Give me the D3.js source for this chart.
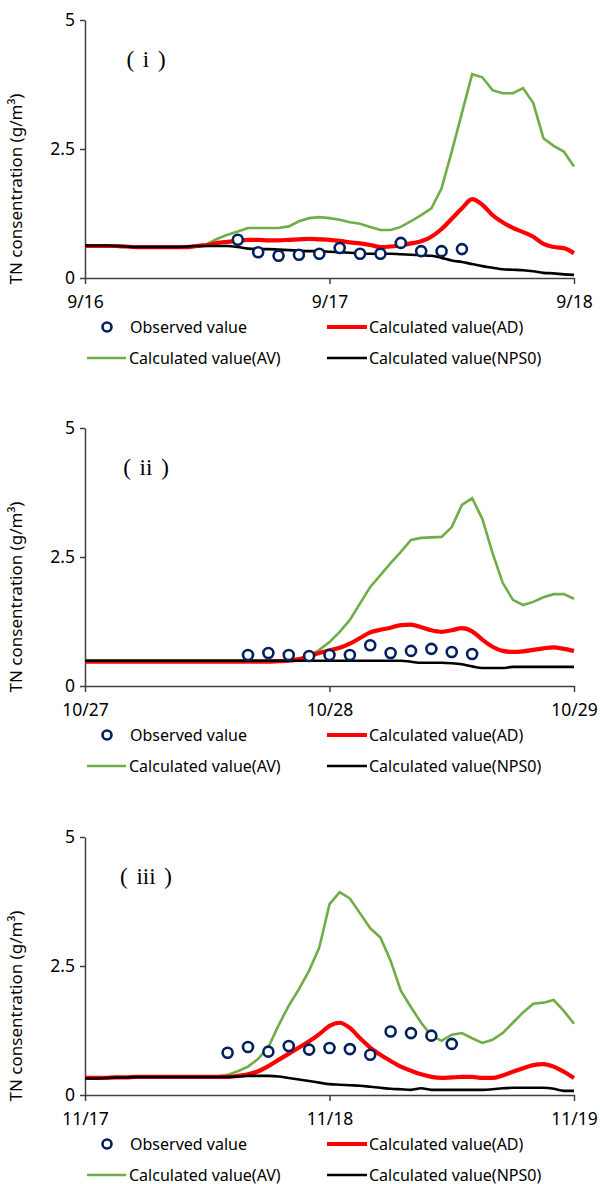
<!DOCTYPE html>
<html>
<head>
<meta charset="utf-8">
<script src="https://cdn.jsdelivr.net/npm/d3@7"></script>
<style>
  body { margin: 0; background: #fff; }
  svg { display: block; }
  text { font-family: "Noto Sans", sans-serif; fill: #000; }
</style>
</head>
<body>
<svg id="chart"></svg>
<script>
// hourly time index over two days
var hours = [0,1,2,3,4,5,6,7,8,9,10,11,12,13,14,15,16,17,18,19,20,21,22,23,24,
             25,26,27,28,29,30,31,32,33,34,35,36,37,38,39,40,41,42,43,44,45,46,47,48];

var panelNames = ["( i )", "( ii )", "( iii )"];
var dayLabels1 = ["9/16", "9/17", "9/18"];
var dayLabels2 = ["10/27", "10/28", "10/29"];
var dayLabels3 = ["11/17", "11/18", "11/19"];
var yTicks = [0, 2.5, 5];

// (i)
var obsHours1 = [15,17,19,21,23,25,27,29,31,33,35,37];
var obs1 = [0.74,0.50,0.43,0.45,0.47,0.58,0.47,0.47,0.68,0.52,0.52,0.56];
var ad1 = [0.62,0.62,0.62,0.62,0.61,0.60,0.60,0.60,0.60,0.60,0.60,0.62,0.64,0.68,0.70,0.72,0.74,0.74,0.73,0.73,
           0.74,0.75,0.76,0.75,0.74,0.72,0.69,0.67,0.64,0.60,0.61,0.63,0.67,0.71,0.80,0.95,1.15,1.35,1.53,1.42,
           1.22,1.08,0.97,0.89,0.80,0.66,0.60,0.58,0.48];
var av1 = [0.62,0.62,0.62,0.62,0.61,0.60,0.60,0.60,0.60,0.60,0.61,0.62,0.66,0.76,0.84,0.90,0.97,0.97,0.97,0.97,
           1.00,1.10,1.16,1.18,1.16,1.13,1.08,1.05,0.99,0.93,0.93,0.99,1.10,1.22,1.35,1.74,2.45,3.20,3.95,3.89,
           3.64,3.58,3.58,3.68,3.39,2.71,2.56,2.45,2.16];
var nps1 = [0.63,0.63,0.63,0.62,0.61,0.60,0.60,0.60,0.60,0.60,0.61,0.62,0.62,0.62,0.62,0.60,0.57,0.56,0.56,0.55,
            0.54,0.53,0.52,0.52,0.51,0.50,0.49,0.48,0.47,0.47,0.47,0.46,0.45,0.44,0.43,0.39,0.34,0.31,0.27,0.23,
            0.20,0.17,0.16,0.15,0.13,0.10,0.09,0.07,0.06];

// (ii)
var obsHours2 = [16,18,20,22,24,26,28,30,32,34,36,38];
var obs2 = [0.60,0.64,0.60,0.58,0.60,0.60,0.79,0.64,0.68,0.72,0.66,0.62];
var ad2 = [0.47,0.47,0.47,0.47,0.47,0.47,0.47,0.47,0.47,0.47,0.47,0.47,0.47,0.47,0.47,0.47,0.47,0.47,0.47,0.48,
           0.49,0.52,0.58,0.64,0.69,0.74,0.82,0.93,1.04,1.09,1.13,1.18,1.19,1.14,1.08,1.05,1.08,1.12,1.06,0.90,
           0.76,0.68,0.66,0.67,0.70,0.73,0.75,0.72,0.68];
var av2 = [0.50,0.50,0.50,0.50,0.50,0.50,0.50,0.50,0.50,0.50,0.50,0.50,0.50,0.50,0.50,0.50,0.50,0.50,0.50,0.50,
           0.50,0.52,0.58,0.70,0.85,1.05,1.28,1.60,1.92,2.15,2.38,2.60,2.83,2.87,2.88,2.89,3.08,3.51,3.64,3.24,
           2.58,2.00,1.67,1.57,1.63,1.72,1.78,1.78,1.69];
var nps2 = [0.49,0.49,0.49,0.49,0.49,0.49,0.49,0.49,0.49,0.49,0.49,0.49,0.49,0.49,0.49,0.49,0.49,0.49,0.49,0.49,
            0.49,0.49,0.49,0.49,0.49,0.49,0.49,0.49,0.49,0.49,0.49,0.49,0.47,0.45,0.45,0.45,0.44,0.42,0.38,0.35,
            0.35,0.35,0.37,0.37,0.37,0.37,0.37,0.37,0.37];

// (iii)
var obsHours3 = [14,16,18,20,22,24,26,28,30,32,34,36];
var obs3 = [0.82,0.93,0.84,0.95,0.88,0.91,0.89,0.78,1.23,1.20,1.15,0.99];
var ad3 = [0.33,0.33,0.33,0.34,0.34,0.35,0.35,0.35,0.35,0.35,0.35,0.35,0.35,0.35,0.35,0.37,0.40,0.46,0.56,0.68,
           0.80,0.92,1.04,1.18,1.34,1.40,1.30,1.10,0.92,0.78,0.66,0.55,0.47,0.40,0.35,0.33,0.34,0.35,0.35,0.33,
           0.33,0.38,0.45,0.52,0.58,0.60,0.55,0.45,0.33];
var av3 = [0.33,0.33,0.33,0.34,0.34,0.35,0.35,0.35,0.35,0.35,0.35,0.35,0.35,0.36,0.39,0.46,0.55,0.70,0.93,1.35,
           1.73,2.05,2.41,2.86,3.70,3.93,3.81,3.52,3.23,3.05,2.60,2.02,1.70,1.40,1.15,1.05,1.17,1.20,1.10,1.01,
           1.07,1.20,1.40,1.60,1.77,1.79,1.84,1.63,1.38];
var nps3 = [0.32,0.32,0.33,0.34,0.34,0.35,0.35,0.35,0.35,0.35,0.35,0.35,0.35,0.35,0.35,0.36,0.37,0.37,0.37,0.36,
            0.33,0.30,0.27,0.24,0.21,0.20,0.19,0.18,0.16,0.14,0.12,0.11,0.10,0.13,0.10,0.10,0.10,0.10,0.10,0.10,
            0.11,0.13,0.14,0.14,0.14,0.14,0.12,0.08,0.08];

var panels = [
  {name: panelNames[0], days: dayLabels1, obsH: obsHours1, obs: obs1, ad: ad1, av: av1, nps: nps1},
  {name: panelNames[1], days: dayLabels2, obsH: obsHours2, obs: obs2, ad: ad2, av: av2, nps: nps2},
  {name: panelNames[2], days: dayLabels3, obsH: obsHours3, obs: obs3, ad: ad3, av: av3, nps: nps3}
];

var width = 600, height = 1184;
var svg = d3.select("#chart").attr("width", width).attr("height", height);

var left = 85, plotW = 489, plotH = 258;
var tops = [20, 428, 837];

var navy = "#002060", red = "#ff0000", green = "#70ad47";

var x = d3.scaleLinear().domain([0, 48]).range([0, plotW]);
var y = d3.scaleLinear().domain([0, 5]).range([plotH, 0]);

function line(vals, curve) {
  return d3.line()
    .x(function(d, i) { return x(hours[i]); })
    .y(function(d) { return y(d); })
    .curve(curve)(vals);
}

panels.forEach(function(p, k) {
  var g = svg.append("g").attr("transform", "translate(" + left + "," + tops[k] + ")");

  // axes
  var yAxis = g.append("g")
    .call(d3.axisLeft(y).tickValues(yTicks).tickSize(5).tickSizeOuter(0)
      .tickFormat(function(d) { return d === 2.5 ? "2.5" : d; }));
  var xAxis = g.append("g").attr("transform", "translate(0," + plotH + ")")
    .call(d3.axisBottom(x).tickValues([0, 24, 48]).tickSize(6).tickSizeOuter(0)
      .tickFormat(function(d, i) { return p.days[i]; }));
  [yAxis, xAxis].forEach(function(a) {
    a.selectAll("path, line").attr("stroke", "#404040").attr("stroke-width", 1.5);
    a.selectAll("text").style("font-size", "17.5px").attr("fill", "#000");
  });
  yAxis.selectAll("text").attr("x", -10);
  xAxis.selectAll("text").attr("y", 18);

  g.append("text")
    .attr("transform", "translate(-63," + (plotH / 2 + 40) + ") rotate(-90)")
    .attr("text-anchor", "middle")
    .style("font-size", "17px")
    .text("TN consentration (g/m³)");

  g.append("text")
    .attr("x", 61).attr("y", 47)
    .attr("text-anchor", "middle")
    .style("font-family", "'Liberation Serif', serif")
    .style("font-size", "23px")
    .style("word-spacing", "3px")
    .text(p.name);

  // series
  g.append("path").attr("d", line(p.av, d3.curveLinear))
    .attr("fill", "none").attr("stroke", green).attr("stroke-width", 2.6);
  g.append("path").attr("d", line(p.ad, d3.curveMonotoneX))
    .attr("fill", "none").attr("stroke", red).attr("stroke-width", 4.2);
  g.append("path").attr("d", line(p.nps, d3.curveMonotoneX))
    .attr("fill", "none").attr("stroke", "#000").attr("stroke-width", 2.6);

  g.selectAll("circle.obs").data(p.obs).enter().append("circle")
    .attr("class", "obs")
    .attr("cx", function(d, i) { return x(p.obsH[i]); })
    .attr("cy", function(d) { return y(d); })
    .attr("r", 5)
    .attr("fill", "#fff")
    .attr("stroke", navy)
    .attr("stroke-width", 2.6);

  // legend
  var lg = svg.append("g").attr("transform", "translate(0," + (tops[k] + plotH) + ")");
  var r1 = 49, r2 = 80;
  lg.append("circle").attr("cx", 107).attr("cy", r1).attr("r", 4.5)
    .attr("fill", "#fff").attr("stroke", navy).attr("stroke-width", 2.6);
  lg.append("text").attr("x", 130).attr("y", r1 + 5.5).style("font-size", "16px").text("Observed value");
  lg.append("line").attr("x1", 327).attr("x2", 367).attr("y1", r1).attr("y2", r1)
    .attr("stroke", red).attr("stroke-width", 4);
  lg.append("text").attr("x", 369).attr("y", r1 + 5.5).style("font-size", "16px").text("Calculated value(AD)");
  lg.append("line").attr("x1", 87).attr("x2", 126).attr("y1", r2).attr("y2", r2)
    .attr("stroke", green).attr("stroke-width", 2.6);
  lg.append("text").attr("x", 129).attr("y", r2 + 5.5).style("font-size", "16px").text("Calculated value(AV)");
  lg.append("line").attr("x1", 327).attr("x2", 367).attr("y1", r2).attr("y2", r2)
    .attr("stroke", "#000").attr("stroke-width", 2.6);
  lg.append("text").attr("x", 369).attr("y", r2 + 5.5).style("font-size", "16px").text("Calculated value(NPS0)");
});
</script>
</body>
</html>
